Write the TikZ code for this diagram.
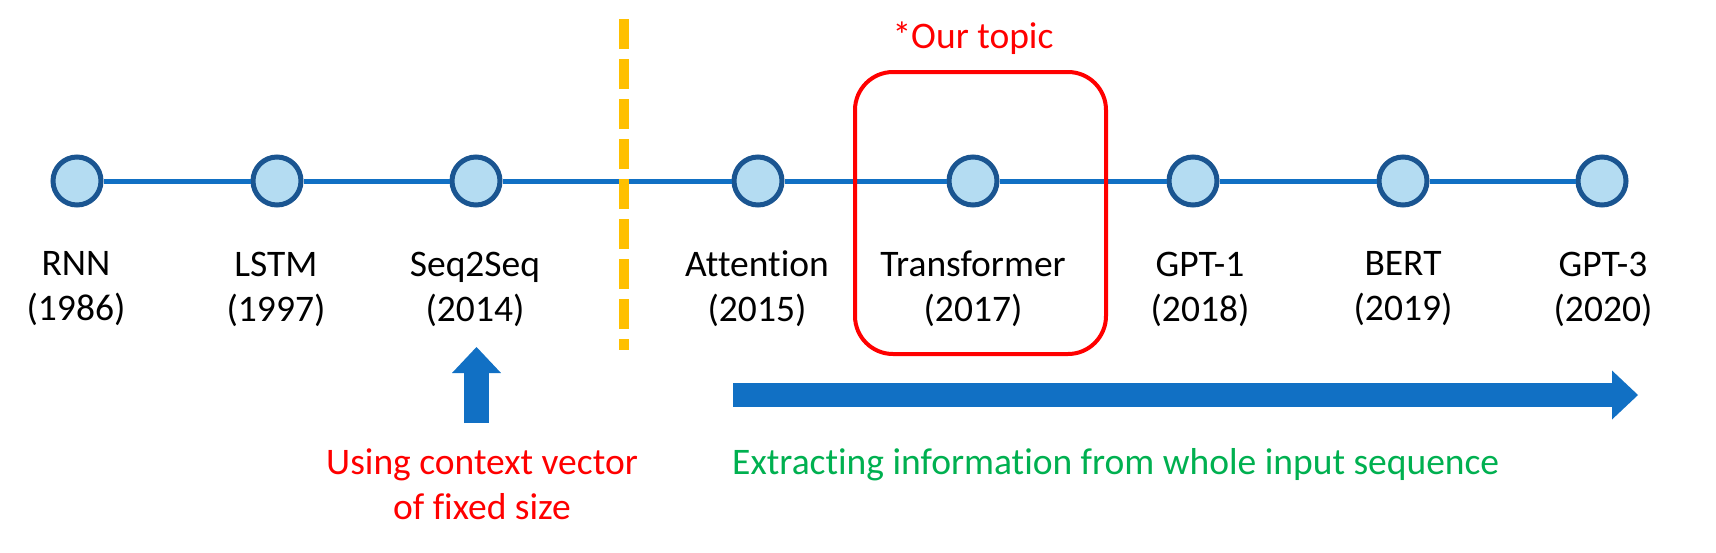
\documentclass[tikz,border=0pt]{standalone}
\usepackage{fontspec}
\setmainfont{Carlito}[Ligatures=NoCommon]
\usepackage{xcolor}
\usetikzlibrary{arrows.meta}
\definecolor{lineblue}{HTML}{1170C4}
\definecolor{dotfill}{HTML}{B4DCF2}
\definecolor{dotedge}{HTML}{1A5591}
\definecolor{topicred}{HTML}{FF0000}
\definecolor{infogreen}{HTML}{00B050}
\definecolor{splitgold}{HTML}{FFC000}

\begin{document}
\begin{tikzpicture}[x=1pt,y=-1pt,
	dot/.style={circle,draw=dotedge,fill=dotfill,line width=5pt,minimum size=48pt,inner sep=0pt},
	year/.style={align=center,inner sep=0pt,font=\fontsize{37.5}{45}\selectfont},
	tline/.style={draw=lineblue,line width=5pt},
	topicbox/.style={draw=topicred,line width=4pt,rounded corners=38pt,inner sep=0pt},
	split/.style={draw=splitgold,line width=10pt,dash pattern=on 30pt off 10pt},
	fatarrow/.style={draw=lineblue,-{Triangle[width=49pt,length=26pt,line width=0pt]}},
	rednote/.style={year,text=topicred},
	greennote/.style={year,text=infogreen}]
	\useasboundingbox (0,0) rectangle (1716,552);

	\node[dot] (rnn) at (77,181) {};
	\node[dot] (lstm) at (277,181) {};
	\node[dot] (seqseq) at (476,181) {};
	\node[dot] (attn) at (758,181) {};
	\node[dot] (trans) at (973,181) {};
	\node[dot] (gptone) at (1193,181) {};
	\node[dot] (bert) at (1403,181) {};
	\node[dot] (gptthree) at (1602,181) {};

\draw[tline] (rnn) -- (lstm); \draw[tline] (lstm) -- (seqseq); \draw[tline] (seqseq) -- (attn); \draw[tline] (attn) -- (trans); \draw[tline] (trans) -- (gptone); \draw[tline] (gptone) -- (bert); \draw[tline] (bert) -- (gptthree);

	\node[year] (rnnlab) at (76,289) {RNN\\(1986)};
	\node[year] (lstmlab) at (276,289) {LSTM\\(1997)};
	\node[year] (seqlab) at (475,289) {Seq2Seq\\(2014)};
	\node[year] (attnlab) at (757,289) {Attention\\(2015)};
	\node[year] (translab) at (973,289) {Transformer\\(2017)};
	\node[year] (gptonelab) at (1200,289) {GPT-1\\(2018)};
	\node[year] (bertlab) at (1403,289) {BERT\\(2019)};
	\node[year] (gptthreelab) at (1603,289) {GPT-3\\(2020)};

	\node[topicbox,minimum width=251pt,minimum height=282pt] (topic) at (980.5,213) {};
	\node[rednote,anchor=base] (topiclab) at (973,48) {*Our topic};

	\coordinate (splittop) at (624,19);
	\coordinate (splitbot) at (624,350);
	\draw[split] (splittop) -- (splitbot);

	\coordinate (ctxfoot) at (476.5,423);
	\coordinate (ctxtip) at (476.5,347);
	\draw[fatarrow,line width=25pt] (ctxfoot) -- (ctxtip);
	\node[rednote] (ctxnote) at (482,484) {Using context vector\\of fixed size};

	\coordinate (infostart) at (733,395);
	\coordinate (infoend) at (1638,395);
	\draw[fatarrow,line width=24pt] (infostart) -- (infoend);
	\node[greennote,anchor=base west] (infonote) at (732,474) {Extracting information from whole input sequence};

\end{tikzpicture}
\end{document}
